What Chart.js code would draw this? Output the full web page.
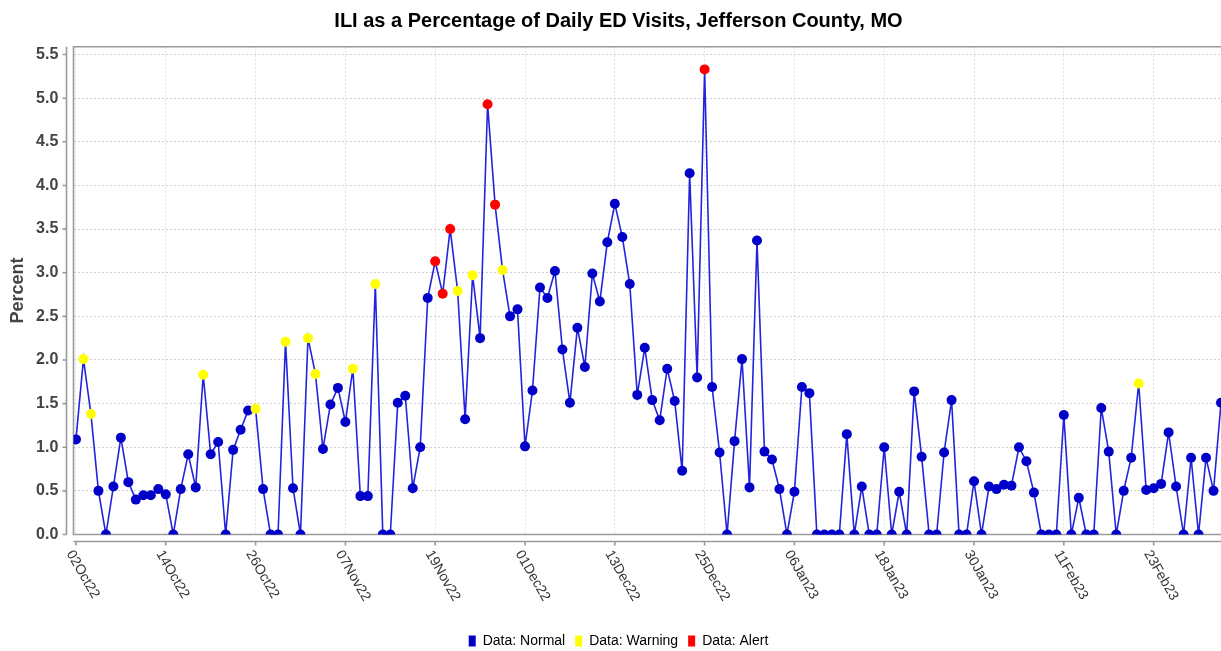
<!DOCTYPE html>
<html><head><meta charset="utf-8">
<script src="https://cdn.jsdelivr.net/npm/chart.js@4/dist/chart.umd.min.js"></script>
<style>html,body{margin:0;padding:0;background:#fff;overflow:hidden}#wrap{width:1221px;height:651px;position:relative}</style>
</head><body><div id="wrap"><canvas id="c" width="1221" height="651"></canvas></div>
<script>
// ---- data ----
const chartTitle = 'ILI as a Percentage of Daily ED Visits, Jefferson County, MO';
const yTitle = 'Percent';
// daily values starting 02Oct22 (day index 0) through 04Mar23 (day index 153)
const values = [
  1.09, 2.01, 1.38, 0.50, 0.00, 0.55, 1.11, 0.60, 0.40, 0.45,
  0.45, 0.52, 0.46, 0.00, 0.52, 0.92, 0.54, 1.83, 0.92, 1.06,
  0.00, 0.97, 1.20, 1.42, 1.44, 0.52, 0.00, 0.00, 2.21, 0.53,
  0.00, 2.25, 1.84, 0.98, 1.49, 1.68, 1.29, 1.90, 0.44, 0.44,
  2.87, 0.00, 0.00, 1.51, 1.59, 0.53, 1.00, 2.71, 3.13, 2.76,
  3.50, 2.79, 1.32, 2.97, 2.25, 4.93, 3.78, 3.03, 2.50, 2.58,
  1.01, 1.65, 2.83, 2.71, 3.02, 2.12, 1.51, 2.37, 1.92, 2.99,
  2.67, 3.35, 3.79, 3.41, 2.87, 1.60, 2.14, 1.54, 1.31, 1.90,
  1.53, 0.73, 4.14, 1.80, 5.33, 1.69, 0.94, 0.00, 1.07, 2.01,
  0.54, 3.37, 0.95, 0.86, 0.52, 0.00, 0.49, 1.69, 1.62, 0.00,
  0.00, 0.00, 0.00, 1.15, 0.00, 0.55, 0.00, 0.00, 1.00, 0.00,
  0.49, 0.00, 1.64, 0.89, 0.00, 0.00, 0.94, 1.54, 0.00, 0.00,
  0.61, 0.00, 0.55, 0.52, 0.57, 0.56, 1.00, 0.84, 0.48, 0.00,
  0.00, 0.00, 1.37, 0.00, 0.42, 0.00, 0.00, 1.45, 0.95, 0.00,
  0.50, 0.88, 1.73, 0.51, 0.53, 0.58, 1.17, 0.55, 0.00, 0.88,
  0.00, 0.88, 0.50, 1.51
];
const warningDays = [1, 2, 17, 24, 28, 31, 32, 37, 40, 51, 53, 57, 142];
const alertDays = [48, 49, 50, 55, 56, 84];
const tickDays = [0, 12, 24, 36, 48, 60, 72, 84, 96, 108, 120, 132, 144];
const tickLabels = ['02Oct22','14Oct22','26Oct22','07Nov22','19Nov22','01Dec22','13Dec22','25Dec22','06Jan23','18Jan23','30Jan23','11Feb23','23Feb23'];
const yTicks = [0, 0.5, 1, 1.5, 2, 2.5, 3, 3.5, 4, 4.5, 5, 5.5];
const seriesNames = ['Data: Normal', 'Data: Warning', 'Data: Alert'];

// ---- style ----
const FONT = '"Liberation Sans", Arial, Helvetica, sans-serif';
const seriesColors = ['#0000c8', '#ffff00', '#ff0000'];
const LINE_COLOR = '#2323dd';
const AXIS_COLOR = '#9a9a9a';

const flagged = new Set([...warningDays, ...alertDays]);
const normalData = values.map((v, i) => ({x: i, y: v}));
const normalRadius = values.map((v, i) => flagged.has(i) ? 0 : 5);
const warnData = warningDays.map(d => ({x: d, y: values[d]}));
const alertData = alertDays.map(d => ({x: d, y: values[d]}));

const axesPlugin = {
  id: 'axesDecor',
  beforeDatasetsDraw(chart) {
    const {ctx, chartArea: ca, scales: {x, y}} = chart;
    ctx.save();
    ctx.strokeStyle = AXIS_COLOR;
    ctx.lineWidth = 1.6;
    ctx.beginPath();
    // plot frame (open on the right, where the picture is cut)
    ctx.moveTo(ca.right + 5, ca.top); ctx.lineTo(ca.left, ca.top);
    ctx.lineTo(ca.left, ca.bottom); ctx.lineTo(ca.right + 5, ca.bottom);
    // y axis line + ticks
    const ax = ca.left - 7;
    ctx.moveTo(ax, ca.top); ctx.lineTo(ax, ca.bottom);
    yTicks.forEach(v => { const py = y.getPixelForValue(v); ctx.moveTo(ax - 4, py); ctx.lineTo(ax, py); });
    // x axis line + ticks
    const ay = ca.bottom + 7;
    ctx.moveTo(ca.left, ay); ctx.lineTo(ca.right + 5, ay);
    tickDays.forEach(d => { const px = x.getPixelForValue(d); ctx.moveTo(px, ay); ctx.lineTo(px, ay + 4); });
    ctx.stroke();
    ctx.restore();
  },
  afterDraw(chart) {
    const {ctx, chartArea: ca, scales: {x}} = chart;
    ctx.save();
    ctx.font = '14px ' + FONT;
    ctx.fillStyle = '#333';
    ctx.textAlign = 'left';
    ctx.textBaseline = 'middle';
    tickDays.forEach((d, i) => {
      const px = x.getPixelForValue(d);
      ctx.save();
      ctx.translate(px - 6.5, ca.bottom + 17);
      ctx.rotate(Math.PI / 3);
      ctx.fillText(tickLabels[i], 0, 0);
      ctx.restore();
    });
    ctx.restore();
  }
};

new Chart(document.getElementById('c'), {
  type: 'line',
  data: {
    datasets: [
      {label: seriesNames[0], data: normalData, borderColor: LINE_COLOR, borderWidth: 1.6, backgroundColor: seriesColors[0],
       pointRadius: normalRadius, pointHoverRadius: normalRadius, pointBackgroundColor: seriesColors[0], pointBorderWidth: 0, tension: 0, order: 1},
      {label: seriesNames[1], data: warnData, showLine: false, borderColor: seriesColors[1], backgroundColor: seriesColors[1],
       pointRadius: 5, pointHoverRadius: 5, pointBackgroundColor: seriesColors[1], pointBorderWidth: 0, order: 0},
      {label: seriesNames[2], data: alertData, showLine: false, borderColor: seriesColors[2], backgroundColor: seriesColors[2],
       pointRadius: 5, pointHoverRadius: 5, pointBackgroundColor: seriesColors[2], pointBorderWidth: 0, order: 0}
    ]
  },
  options: {
    responsive: false,
    animation: false,
    devicePixelRatio: 1,
    layout: {autoPadding: false, padding: {left: 0, right: -16, top: 0, bottom: -7}},
    plugins: {
      title: {display: true, text: chartTitle, color: '#000', font: {family: FONT, size: 20, weight: 'bold'}, padding: {top: 9, bottom: 13.7}},
      legend: {
        display: true, position: 'bottom',
        labels: {
          boxWidth: 7, boxHeight: 11, padding: 10, color: '#222', font: {family: FONT, size: 14},
          generateLabels: (chart) => chart.data.datasets.map((ds, i) => ({
            text: ds.label, fillStyle: seriesColors[i], strokeStyle: seriesColors[i], lineWidth: 0, hidden: false, datasetIndex: i
          }))
        }
      },
      tooltip: {enabled: false}
    },
    scales: {
      x: {
        type: 'linear', min: -0.33, max: 153.0,
        afterBuildTicks: (s) => { s.ticks = tickDays.map(v => ({value: v})); },
        afterFit: (s) => { s.height = 89.5; },
        ticks: {display: false},
        grid: {color: '#e3e3e3', lineWidth: 1, drawTicks: false},
        border: {display: false, dash: [2, 2]}
      },
      y: {
        min: 0, max: 5.59,
        afterBuildTicks: (s) => { s.ticks = yTicks.map(v => ({value: v})); },
        afterFit: (s) => { s.width = 73.5; },
        ticks: {callback: (v) => Number(v).toFixed(1), color: '#444', font: {family: FONT, size: 16, weight: 'bold'}, padding: 15.2},
        title: {display: true, text: yTitle, color: '#444', font: {family: FONT, size: 18, weight: 'bold'}, padding: {top: 7.2, bottom: 0}},
        grid: {color: '#cfcfcf', lineWidth: 1, drawTicks: false},
        border: {display: false, dash: [2, 2]}
      }
    }
  },
  plugins: [axesPlugin]
});
</script>
</body></html>
